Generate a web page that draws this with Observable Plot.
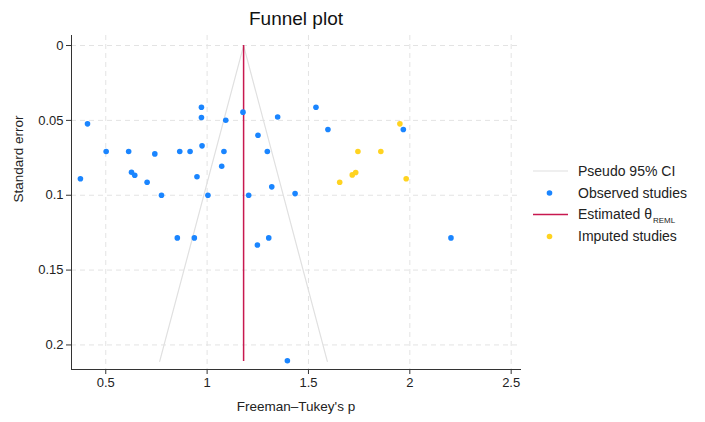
<!DOCTYPE html>
<html><head><meta charset="utf-8">
<script src="https://cdn.jsdelivr.net/npm/d3@7"></script>
<script src="https://cdn.jsdelivr.net/npm/@observablehq/plot@0.6"></script>
<style>body{margin:0;background:#fff;} svg{font-family:"Liberation Sans",Arial,sans-serif;}</style>
</head><body><div id="chart"></div>
<script>
// Observed studies (Freeman–Tukey's p, standard error)
const observedX  = [0.375,0.410,0.502,0.613,0.627,0.643,0.704,0.742,0.775,0.865,0.916,0.950,0.972,0.972,0.975,1.004,1.072,1.083,1.092,1.177,1.205,1.251,1.297,1.319,1.348,1.434,1.537,1.596,1.968,0.853,0.937,1.248,1.304,1.396,2.203];
const observedSE = [0.0890,0.0523,0.0708,0.0708,0.0846,0.0866,0.0913,0.0724,0.1000,0.0708,0.0708,0.0877,0.0412,0.0481,0.0670,0.1000,0.0806,0.0708,0.0499,0.0445,0.1000,0.0599,0.0708,0.0944,0.0477,0.0989,0.0412,0.0561,0.0561,0.1285,0.1285,0.1332,0.1285,0.2106,0.1285];
// Imputed studies (trim-and-fill)
const imputedX  = [1.654,1.716,1.733,1.744,1.857,1.951,1.982];
const imputedSE = [0.0913,0.0864,0.0848,0.0708,0.0708,0.0523,0.0890];
// Estimated theta (REML) and pseudo 95% CI funnel
const thetaREML = 1.18;
const seMax = 0.211;
const funnelX  = [0.766, 1.18, 1.593];
const funnelSE = [0.211, 0, 0.211];
const xTicks = [0.5, 1, 1.5, 2, 2.5];
const yTicks = [0, 0.05, 0.1, 0.15, 0.2];
const legendLabels = ["Pseudo 95% CI", "Observed studies", "Estimated θ", "Imputed studies"];

const observed = observedX.map((x, i) => ({x, se: observedSE[i]}));
const imputed = imputedX.map((x, i) => ({x, se: imputedSE[i]}));
const funnel = funnelX.map((x, i) => ({x, se: funnelSE[i]}));

const C_BLUE = "#1a85ff", C_YEL = "#ffd320", C_RED = "#c8184f", C_CI = "#e0e0e0", C_AX = "#333";

const chart = Plot.plot({
  width: 705, height: 422,
  marginLeft: 71, marginRight: 185, marginTop: 35, marginBottom: 53,
  style: {fontFamily: "Liberation Sans, Arial, sans-serif", fontSize: "13px", color: "#222", background: "#fff", overflow: "visible"},
  x: {domain: [0.331, 2.546]},
  y: {domain: [-0.0067, 0.2164], reverse: true},
  marks: [
    Plot.gridX(xTicks, {stroke: "#e3e3e3", strokeOpacity: 1, strokeDasharray: "5,4"}),
    Plot.gridY(yTicks, {stroke: "#e3e3e3", strokeOpacity: 1, strokeDasharray: "5,4"}),
    Plot.line(funnel, {x: "x", y: "se", stroke: C_CI, strokeWidth: 1.2}),
    Plot.ruleX([thetaREML], {y1: 0, y2: seMax, stroke: C_RED, strokeWidth: 1.5}),
    Plot.dot(observed, {x: "x", y: "se", fill: C_BLUE, r: 2.8}),
    Plot.dot(imputed, {x: "x", y: "se", fill: C_YEL, r: 2.8}),
    Plot.axisX(xTicks, {tickFormat: d => String(d), tickSize: 5, tickPadding: 3, stroke: C_AX, label: null, fontSize: 13}),
    Plot.axisY(yTicks, {tickFormat: d => String(d), tickSize: 5, tickPadding: 3, stroke: C_AX, label: null, fontSize: 13}),
    Plot.frame({anchor: "left", stroke: C_AX}),
    Plot.frame({anchor: "bottom", stroke: C_AX}),
    Plot.text(["Funnel plot"], {frameAnchor: "top", dy: -24, fontSize: 19, fill: "#111"}),
    Plot.text(["Freeman–Tukey's p"], {frameAnchor: "bottom", dy: 41, fontSize: 13.5, fill: "#222"}),
    Plot.text(["Standard error"], {frameAnchor: "left", dx: -53, rotate: -90, fontSize: 13.5, fill: "#222"})
  ]
});
document.getElementById("chart").appendChild(chart);

// Legend
const svg = d3.select(chart);
const lg = svg.append("g").attr("font-family", "Liberation Sans, Arial, sans-serif").attr("font-size", 14).attr("fill", "#222").attr("text-anchor", "start");
const rows = [171, 193, 214.5, 236.5];
const kinds = ["ci", "obs", "theta", "imp"];
rows.forEach((y, i) => {
  const k = kinds[i];
  if (k === "ci") lg.append("line").attr("x1", 533).attr("x2", 568).attr("y1", y).attr("y2", y).attr("stroke", C_CI).attr("stroke-width", 1.2);
  if (k === "theta") lg.append("line").attr("x1", 533).attr("x2", 568).attr("y1", y).attr("y2", y).attr("stroke", C_RED).attr("stroke-width", 1.5);
  if (k === "obs") lg.append("circle").attr("cx", 549.5).attr("cy", y).attr("r", 2.8).attr("fill", C_BLUE);
  if (k === "imp") lg.append("circle").attr("cx", 549.5).attr("cy", y).attr("r", 2.8).attr("fill", C_YEL);
  const t = lg.append("text").attr("x", 578).attr("y", y).attr("dy", "0.35em").attr("text-anchor", "start").text(legendLabels[i]);
  if (k === "theta") t.append("tspan").attr("font-size", 8).attr("dy", "0.45em").attr("dx", 1).text("REML");
});
</script></body></html>
